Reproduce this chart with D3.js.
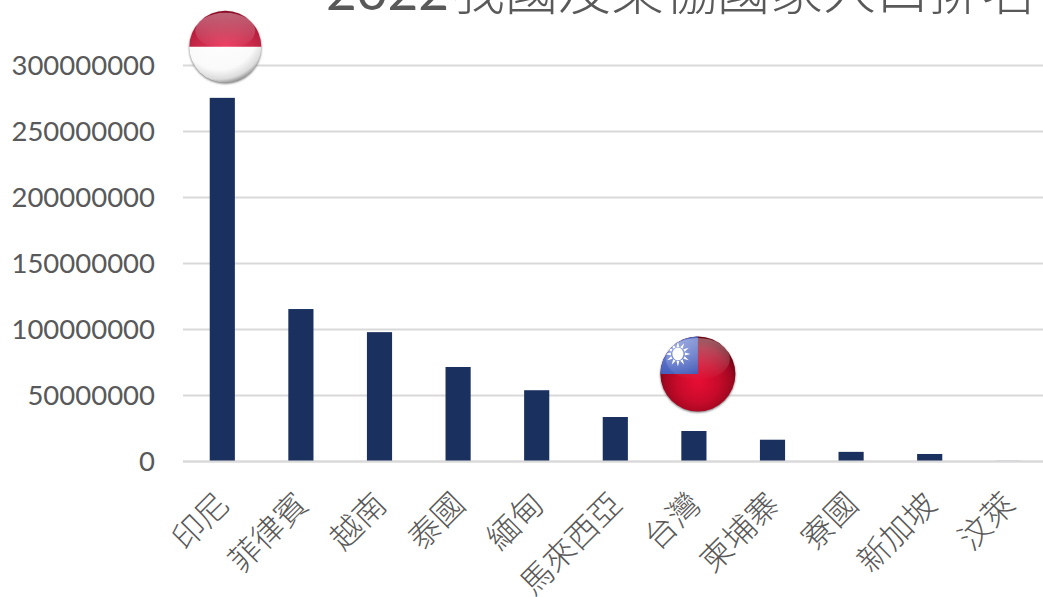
<!DOCTYPE html>
<html>
<head>
<meta charset="utf-8">
<script src="https://d3js.org/d3.v7.min.js"></script>
<style>
  html, body { margin: 0; padding: 0; background: #fff; overflow: hidden; }
  text { fill: #595959; }
  .cjk { font-family: "Noto Sans CJK TC", "Noto Sans CJK SC", sans-serif; font-weight: 300; }
  .num { font-family: Lato, "Noto Sans", sans-serif; }
</style>
</head>
<body>
<div id="chart"></div>
<script>
var titleYear = "2022";
var titleRest = "我國及東協國家人口排名";
var countries = ["印尼", "菲律賓", "越南", "泰國", "緬甸", "馬來西亞", "台灣", "柬埔寨", "寮國", "新加坡", "汶萊"];
var population = [275500000, 115500000, 98000000, 71600000, 54000000, 33700000, 23100000, 16500000, 7300000, 5700000, 450000];
var yTicks = [0, 50000000, 100000000, 150000000, 200000000, 250000000, 300000000];

var margin = {top: 65.5, left: 183, bottom: 135.5},
    width = 1043,
    height = 597;

var svg = d3.select("#chart").append("svg")
  .attr("width", width)
  .attr("height", height)
  .style("display", "block");

var x = d3.scaleBand()
  .domain(countries)
  .range([margin.left, margin.left + 78.6 * countries.length])
  .paddingInner(0.68)
  .paddingOuter(0.34);

var y = d3.scaleLinear()
  .domain([0, 300000000])
  .range([height - margin.bottom, margin.top]);

// gradients for the glossy flag buttons
var defs = svg.append("defs");

function radial(id, cx, cy, r, stops) {
  var g = defs.append("radialGradient").attr("id", id)
    .attr("cx", cx).attr("cy", cy).attr("r", r);
  stops.forEach(function(s) {
    g.append("stop").attr("offset", s[0]).attr("stop-color", s[1]);
  });
}

radial("redBall", 0.5, 0.6, 0.55, [[0, "#e80e34"], [0.5, "#c80b2b"], [0.82, "#a00720"], [1, "#6c0412"]]);
radial("redTop", 0.5, 1, 1, [[0, "#f03a60"], [0.45, "#c22545"], [0.85, "#a01030"], [1, "#880a24"]]);
radial("whiteBall", 0.42, 0.3, 0.72, [[0, "#ffffff"], [0.72, "#fafafa"], [0.9, "#dcdcdc"], [1, "#8c8c8c"]]);
radial("cantonBlue", 0.35, 0.3, 0.9, [[0, "#6f86d8"], [1, "#3d56b4"]]);

var gloss = defs.append("linearGradient").attr("id", "gloss").attr("x1", 0).attr("y1", 0).attr("x2", 0).attr("y2", 1);
gloss.append("stop").attr("offset", 0).attr("stop-color", "#fff").attr("stop-opacity", 0.36);
gloss.append("stop").attr("offset", 1).attr("stop-color", "#fff").attr("stop-opacity", 0);

var blur = defs.append("filter").attr("id", "soft").attr("x", "-20%").attr("y", "-20%").attr("width", "140%").attr("height", "140%");
blur.append("feGaussianBlur").attr("stdDeviation", 1.2);

// grid lines
svg.append("g").selectAll("line")
  .data(yTicks)
  .join("line")
    .attr("x1", margin.left)
    .attr("x2", width)
    .attr("y1", function(d) { return y(d); })
    .attr("y2", function(d) { return y(d); })
    .attr("stroke", "#d9d9d9")
    .attr("stroke-width", 2);

// y axis
var yAxis = svg.append("g")
  .attr("transform", "translate(" + (margin.left - 28) + ",0)")
  .call(d3.axisLeft(y).tickValues(yTicks).tickFormat(d3.format("d")).tickSize(0).tickPadding(0));
yAxis.select(".domain").remove();
yAxis.selectAll("text")
  .attr("class", "num")
  .attr("dy", "0.31em")
  .style("font-size", "27.5px")
  .style("fill", "#595959");

// x axis
var xAxis = svg.append("g")
  .attr("transform", "translate(0," + y(0) + ")")
  .call(d3.axisBottom(x).tickSize(0).tickPadding(0));
xAxis.select(".domain").remove();
xAxis.selectAll("text")
  .attr("class", "cjk")
  .attr("transform", "translate(1,37)rotate(-45)")
  .attr("dy", "0.35em")
  .style("text-anchor", "end")
  .style("font-size", "32px")
  .style("fill", "#595959");

// bars
svg.append("g").selectAll("rect")
  .data(population)
  .join("rect")
    .attr("x", function(d, i) { return x(countries[i]); })
    .attr("y", function(d) { return y(d); })
    .attr("width", x.bandwidth())
    .attr("height", function(d) { return y(0) - y(d); })
    .attr("fill", "#1a315f");

// zero line sits over the bar feet
svg.append("line")
  .attr("x1", margin.left)
  .attr("x2", width)
  .attr("y1", y(0))
  .attr("y2", y(0))
  .attr("stroke", "#d9d9d9")
  .attr("stroke-width", 2);

// title, runs off the top of the picture
var title = svg.append("text")
  .attr("x", 326)
  .attr("y", 10)
  .style("font-size", "53px");
title.append("tspan").attr("class", "num").text(titleYear);
title.append("tspan").attr("class", "cjk").attr("dx", 3).text(titleRest);

// Indonesia flag
function ballX(name, off) { return x(name) + x.bandwidth() / 2 + off; }
function ballY(i, off) { return y(population[i]) - off; }

var idn = svg.append("g")
  .attr("transform", "translate(" + ballX("印尼", 3) + "," + ballY(0, 51) + ")");
idn.append("circle").attr("r", 36).attr("cy", 1).attr("fill", "#777").attr("filter", "url(#soft)");
idn.append("circle").attr("r", 36).attr("fill", "url(#whiteBall)");
idn.append("path").attr("d", d3.arc()({innerRadius: 0, outerRadius: 36, startAngle: -Math.PI / 2, endAngle: Math.PI / 2})).attr("fill", "url(#redTop)");
idn.append("ellipse").attr("cx", 0).attr("cy", -16).attr("rx", 30).attr("ry", 18).attr("fill", "url(#gloss)");

// Taiwan flag
var twn = svg.append("g")
  .attr("transform", "translate(" + ballX("台灣", 4) + "," + ballY(6, 57) + ")");
twn.append("circle").attr("r", 37.5).attr("cy", 1).attr("fill", "#777").attr("filter", "url(#soft)");
twn.append("circle").attr("r", 37.5).attr("fill", "url(#redBall)");
var clipTwn = defs.append("clipPath").attr("id", "twnClip");
clipTwn.append("circle").attr("r", 37.5);
var canton = twn.append("g").attr("clip-path", "url(#twnClip)");
canton.append("rect").attr("x", -38).attr("y", -38).attr("width", 38).attr("height", 38).attr("fill", "url(#cantonBlue)");
var rays = d3.range(12);
canton.selectAll("path.ray")
  .data(rays)
  .join("path")
    .attr("class", "ray")
    .attr("d", "M-1.4,-7 L0,-12.5 L1.4,-7 Z")
    .attr("fill", "#fff")
    .attr("transform", function(d) { return "translate(-20,-20)rotate(" + d * 30 + ")"; });
canton.append("ellipse").attr("cx", -20).attr("cy", -20).attr("rx", 5.5).attr("ry", 6.5).attr("fill", "#fff");
// gloss on the upper half
twn.append("ellipse").attr("cx", 0).attr("cy", -15).attr("rx", 32).attr("ry", 21).attr("fill", "url(#gloss)");
</script>
</body>
</html>
